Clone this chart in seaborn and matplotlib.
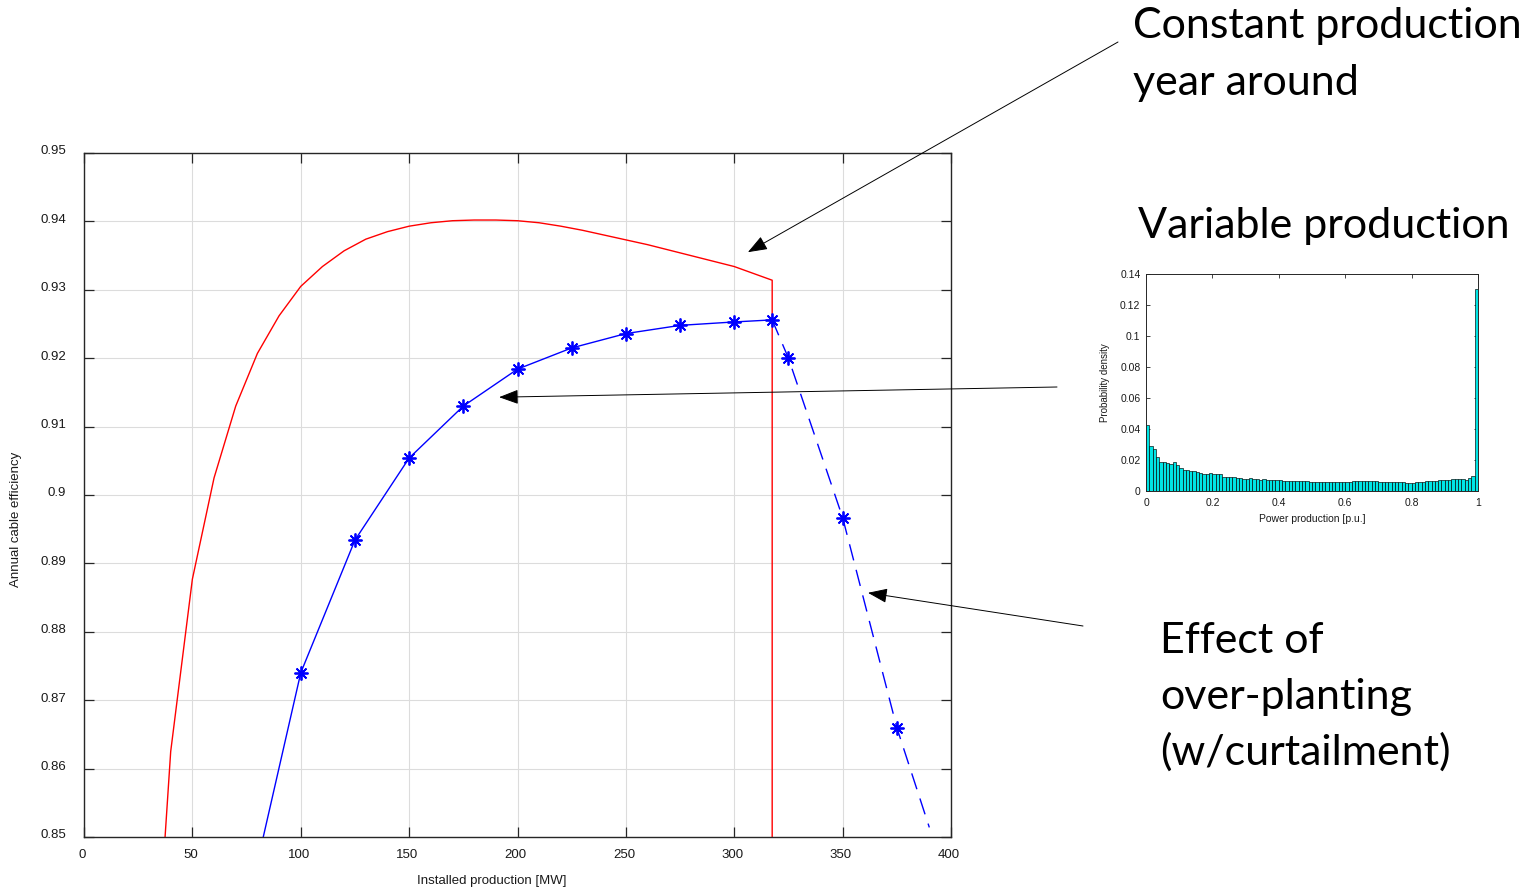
import numpy as np
import pandas as pd
import matplotlib
matplotlib.use("Agg")
import matplotlib.pyplot as plt
import matplotlib.transforms as mtransforms
import seaborn as sns
from matplotlib.ticker import FormatStrFormatter

# ---------------- data ----------------
red_x = [37.4, 40, 50, 60, 70, 80, 90, 100, 110, 120, 130, 140, 150, 160, 170,
         180, 190, 200, 210, 220, 230, 240, 250, 260, 270, 280, 290, 300, 317.5, 317.5]
red_y = [0.8500, 0.8625, 0.8877, 0.9025, 0.9130, 0.9207, 0.9262, 0.9305, 0.9334,
         0.9357, 0.9374, 0.9385, 0.9393, 0.9398, 0.9401, 0.9402, 0.9402, 0.9401,
         0.9398, 0.9393, 0.9387, 0.9380, 0.9373, 0.9366, 0.9358, 0.9350, 0.9342,
         0.9334, 0.9314, 0.8500]

blue_x = [82.7, 100, 125, 150, 175, 200, 225, 250, 275, 300, 317.5]
blue_y = [0.8500, 0.8740, 0.8934, 0.9054, 0.9130, 0.9184, 0.9215, 0.9236, 0.9248,
          0.9253, 0.9256]

curt_x = [317.5, 325, 350, 375, 390]
curt_y = [0.9256, 0.9200, 0.8967, 0.8660, 0.8514]

hist_density = [
    0.0428, 0.0293, 0.0268, 0.0218, 0.0190, 0.0186, 0.0182, 0.0176, 0.0186, 0.0169,
    0.0148, 0.0137, 0.0135, 0.0128, 0.0126, 0.0122, 0.0116, 0.0111, 0.0111, 0.0113,
    0.0111, 0.0109, 0.0109, 0.0090, 0.0088, 0.0088, 0.0088, 0.0083, 0.0081, 0.0079,
    0.0077, 0.0081, 0.0077, 0.0077, 0.0073, 0.0075, 0.0073, 0.0073, 0.0071, 0.0073,
    0.0068, 0.0067, 0.0066, 0.0066, 0.0065, 0.0064, 0.0065, 0.0063, 0.0062, 0.0060,
    0.0058, 0.0058, 0.0058, 0.0057, 0.0057, 0.0056, 0.0058, 0.0057, 0.0055, 0.0057,
    0.0058, 0.0057, 0.0062, 0.0062, 0.0063, 0.0063, 0.0065, 0.0063, 0.0063, 0.0062,
    0.0058, 0.0058, 0.0057, 0.0057, 0.0057, 0.0057, 0.0057, 0.0056, 0.0053, 0.0053,
    0.0054, 0.0056, 0.0058, 0.0060, 0.0062, 0.0063, 0.0064, 0.0066, 0.0068, 0.0070,
    0.0072, 0.0074, 0.0076, 0.0080, 0.0080, 0.0078, 0.0073, 0.0085, 0.0098, 0.1300,
]
n_bins = len(hist_density)

x_ticks = [0, 50, 100, 150, 200, 250, 300, 350, 400]
y_ticks = [0.85, 0.86, 0.87, 0.88, 0.89, 0.90, 0.91, 0.92, 0.93, 0.94, 0.95]

# ---------------- style ----------------
sns.set_style("ticks")
plt.rcParams["font.family"] = ["Liberation Sans", "DejaVu Sans"]

W, H = 1528, 893
fig = plt.figure(figsize=(W / 100, H / 100), dpi=100)

def fx(px):
    return px / W

def fy(py):
    return 1 - py / H

axc = "#262626"
# ---------------- main axes ----------------
ax = fig.add_axes([fx(84), fy(837), fx(951) - fx(84), fy(153) - fy(837)])

sns.lineplot(x=red_x, y=red_y, ax=ax, color="red", lw=1.0, estimator=None, sort=False)
sns.lineplot(x=blue_x, y=blue_y, ax=ax, color="blue", lw=1.0, estimator=None, sort=False,
             marker=(8, 2, 0), markersize=10, markeredgewidth=1.3, markeredgecolor="blue",
             markevery=list(range(1, len(blue_x))))
sns.lineplot(x=curt_x, y=curt_y, ax=ax, color="blue", lw=1.0, estimator=None, sort=False,
             marker=(8, 2, 0), markersize=10, markeredgewidth=1.3, markeredgecolor="blue",
             markevery=list(range(1, len(curt_x) - 1)))
ax.lines[-1].set_dashes((12, 7))

ax.set_xlim(0, 400)
ax.set_ylim(0.85, 0.95)
ax.set_xticks(x_ticks)
ax.set_yticks(y_ticks)
ax.yaxis.set_major_formatter(FormatStrFormatter("%g"))
ax.xaxis.set_major_formatter(FormatStrFormatter("%g"))
ax.grid(True, color="#dcdcdc", lw=0.8)
ax.set_axisbelow(True)
for s in ax.spines.values():
    s.set_visible(True)
    s.set_color(axc)
    s.set_linewidth(1.0)
ax.tick_params(direction="in", length=7, width=0.9, color=axc, labelsize=9.5,
               labelcolor="#1a1a1a", top=True, right=True)
ax.tick_params(axis="y", pad=13)
ax.tick_params(axis="x", pad=9)
shift_up = mtransforms.ScaledTranslation(0, 3 / 100, fig.dpi_scale_trans)
for lab in ax.get_yticklabels():
    lab.set_transform(lab.get_transform() + shift_up)
shift_left = mtransforms.ScaledTranslation(-2 / 100, 0, fig.dpi_scale_trans)
for lab in ax.get_xticklabels():
    lab.set_transform(lab.get_transform() + shift_left)
ax.set_xlabel("Installed production [MW]", fontsize=9.5, color="#1a1a1a")
ax.set_ylabel("Annual cable efficiency", fontsize=9.5, color="#1a1a1a")
ax.xaxis.set_label_coords((492 - 84) / 867, (837 - 875) / 684)
ax.yaxis.set_label_coords((22 - 84) / 867, (837 - 519) / 684)

# ---------------- inset histogram ----------------
axi = fig.add_axes([fx(1146), fy(491), fx(1478) - fx(1146), fy(274) - fy(491)])
centers = (np.arange(n_bins) + 0.5) / n_bins
hist_df = pd.DataFrame({"power": centers, "density": hist_density})
sns.histplot(data=hist_df, x="power", weights="density", bins=n_bins, binrange=(0, 1),
             ax=axi, stat="count", color="#00e5e5", edgecolor="black", linewidth=0.45,
             alpha=1.0)
axi.set_xlim(0, 1)
axi.set_ylim(0, 0.14)
axi.set_xticks([0, 0.2, 0.4, 0.6, 0.8, 1])
axi.set_yticks([0, 0.02, 0.04, 0.06, 0.08, 0.1, 0.12, 0.14])
axi.xaxis.set_major_formatter(FormatStrFormatter("%g"))
axi.yaxis.set_major_formatter(FormatStrFormatter("%g"))
for s in axi.spines.values():
    s.set_visible(True)
    s.set_color(axc)
    s.set_linewidth(0.7)
axi.tick_params(direction="in", length=3, width=0.6, color=axc, labelsize=7.5,
                labelcolor="#1a1a1a", top=True, right=True)
axi.tick_params(axis="y", pad=4)
axi.tick_params(axis="x", pad=5)
axi.set_xlabel("Power production [p.u.]", fontsize=7.5, color="#1a1a1a")
axi.set_ylabel("Probability density", fontsize=7, color="#1a1a1a")
axi.xaxis.set_label_coords((1312 - 1146) / 332, (491 - 514) / 217)
axi.yaxis.set_label_coords((1110 - 1146) / 332, (491 - 383) / 217)

# ---------------- annotation texts ----------------
tfont = dict(family=["Lato", "DejaVu Sans"], fontsize=31, color="black", va="baseline", ha="left")
fig.text(fx(1133), fy(38), "Constant production", **tfont)
fig.text(fx(1133), fy(95), "year around", **tfont)
fig.text(fx(1138), fy(238), "Variable production", **tfont)
fig.text(fx(1160), fy(653), "Effect of", **tfont)
fig.text(fx(1160), fy(709), "over-planting", **tfont)
fig.text(fx(1160), fy(765), "(w/curtailment)", **tfont)

# ---------------- arrows ----------------
aprops = dict(arrowstyle="-|>,head_length=1.2,head_width=0.45", mutation_scale=10,
              lw=0.7, color="black", shrinkA=0, shrinkB=0)
ax.annotate("", xy=(306.3, 0.9355), xycoords="data",
            xytext=(fx(1118), fy(42)), textcoords="figure fraction",
            arrowprops=aprops, annotation_clip=False)
ax.annotate("", xy=(191.5, 0.9143), xycoords="data",
            xytext=(fx(1057), fy(387)), textcoords="figure fraction",
            arrowprops=aprops, annotation_clip=False)
ax.annotate("", xy=(361.7, 0.8857), xycoords="data",
            xytext=(fx(1083), fy(626)), textcoords="figure fraction",
            arrowprops=aprops, annotation_clip=False)

fig.savefig("out.png", dpi=100)
